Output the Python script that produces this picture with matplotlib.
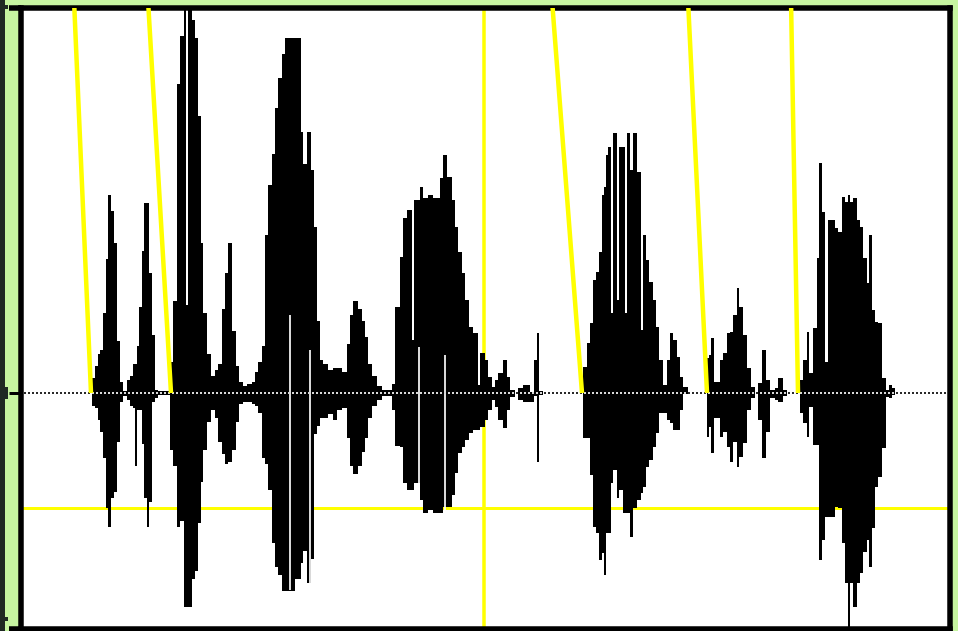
import matplotlib
matplotlib.use("Agg")
import matplotlib.pyplot as plt
from matplotlib.patches import Rectangle

# ---- waveform envelope: column start (frame), max and min amplitude per column ----
frame = [
    24,
    92, 95, 98, 100, 103, 106, 108, 111, 114, 117, 120, 123,
    127, 130, 133, 135, 137, 139, 142, 144, 147, 149, 152, 155, 158,
    170, 173, 177, 180, 184, 186, 188, 192, 195, 198, 201, 203, 207, 211,
    215, 218, 222, 225, 228, 232, 236, 239, 243, 247, 252, 255, 258,
    262, 265, 268, 272, 275, 278, 282, 285, 295, 301, 303, 307, 311, 314,
    317, 320, 323, 328, 333, 337, 342, 347, 350, 353, 358, 362, 365, 368,
    372, 377, 382, 392,
    395, 400, 403, 407, 412, 414, 420, 423, 428, 433, 440, 443, 447, 452,
    455, 458, 462, 465, 469, 473, 478, 480, 485, 488, 492, 495, 498, 503,
    507, 510, 515, 518, 523, 530, 534, 537, 539, 543,
    583, 587, 590, 593, 596, 599, 602, 604, 606, 608, 611, 613, 617, 619,
    623, 625, 627, 630, 633, 637, 641, 643, 646, 649, 653, 656, 659, 663,
    667, 670, 673, 677, 680, 683, 688,
    707, 709, 711, 714, 720, 723, 727, 730, 733, 737, 739, 743, 747, 751,
    755, 758, 762, 766, 770, 775, 778, 783, 787,
    800, 803, 807, 809, 813, 817, 819, 822, 825, 828, 835, 838, 842, 845,
    848, 850, 853, 857, 860, 863, 867, 869, 872, 875, 878, 882, 886, 889,
    892, 895,
]
env_top = [
    0,
    15, 27, 39, 43, 80, 134, 198, 182, 150, 52, 11, 2,
    13, 17, 29, 29, 47, 86, 142, 190, 190, 120, 58, 3, 2,
    31, 92, 309, 357, 385, 88, 385, 373, 355, 277, 150, 80, 39, 17,
    23, 29, 84, 120, 150, 62, 27, 11, 7, 9, 11, 21, 31,
    47, 158, 208, 239, 285, 315, 339, 355, 355, 261, 229, 261, 223, 166,
    72, 33, 29, 23, 25, 25, 21, 49, 78, 92, 84, 72, 56, 29,
    17, 7, 3, 9,
    86, 136, 175, 183, 53, 193, 206, 195, 198, 195, 215, 238, 216, 193,
    166, 141, 120, 93, 66, 60, 8, 40, 33, 16, 6, 13, 20, 33,
    16, 3, 0, 5, 8, 1, 33, 60, 2, 0,
    26, 50, 70, 113, 121, 141, 198, 206, 238, 246, 80, 260, 93, 246,
    246, 80, 260, 223, 260, 221, 63, 158, 133, 111, 93, 66, 33, 8,
    33, 60, 53, 36, 16, 6, 0,
    35, 38, 55, 11, 33, 40, 60, 61, 78, 105, 86, 58, 25, 6,
    0, 10, 43, 13, 3, 5, 15, 3, 0,
    13, 33, 61, 20, 65, 135, 230, 181, 31, 173, 165, 161, 196, 191,
    198, 191, 195, 173, 166, 135, 110, 158, 83, 71, 70, 15, 3, 8,
    5, 0,
]
env_bot = [
    0,
    -13, -15, -27, -39, -65, -115, -134, -105, -99, -49, -9, -3,
    -7, -13, -15, -73, -17, -17, -51, -105, -134, -109, -9, -5, -2,
    -57, -73, -134, -128, -214, -214, -214, -186, -178, -130, -89, -57, -29, -17,
    -25, -49, -61, -71, -69, -57, -29, -11, -9, -9, -11, -13, -20,
    -65, -71, -97, -150, -174, -182, -198, -198, -186, -170, -158, -190, -166, -41,
    -33, -25, -25, -21, -27, -17, -15, -45, -73, -81, -73, -59, -45, -25,
    -13, -7, -3, -17,
    -53, -54, -90, -97, -97, -90, -107, -120, -117, -120, -120, -114, -114, -102,
    -80, -60, -54, -47, -40, -37, -37, -34, -27, -17, -7, -14, -27, -35,
    -17, -4, 0, -7, -9, -9, -3, -69, -2, 0,
    -45, -45, -82, -134, -140, -167, -160, -182, -140, -140, -90, -77, -105, -97,
    -120, -120, -120, -144, -115, -107, -100, -94, -74, -67, -54, -40, -20, -20,
    -27, -30, -37, -37, -17, -1, 0,
    -44, -34, -60, -25, -44, -39, -54, -69, -49, -74, -64, -50, -17, -5,
    0, -27, -65, -39, -5, -7, -9, -3, 0,
    -20, -30, -44, -14, -52, -52, -167, -147, -124, -124, -114, -115, -150, -190,
    -234, -190, -214, -190, -180, -159, -147, -174, -135, -94, -84, -55, -4, -5,
    -2, 0,
]
frame_end = 947

# dropouts inside the filled waveform (frame, low amp, high amp)
dropout_frame = [289.5, 310, 419, 444.5]
dropout_lo = [-197, -190, -90, -120]
dropout_hi = [78, 43, 46, 38]

# cursor / marker lines
level_amp = -115          # horizontal reference level
cursor_frame = 484        # vertical cursor
pitch_top = [74, 148, 552, 688, 791]   # slanted pitch marks: frame at the top edge
pitch_base = [91, 171, 582, 707, 798]  # frame where each mark meets the zero line
pitch_top_amp = 393

W, H = 958, 631
GREEN = "#c6f4a0"
YELLOW = "#ffff00"

fig = plt.figure(figsize=(W / 100, H / 100), dpi=100, facecolor=GREEN)

x_left, x_right = 20.8, 949.7
amp_top, amp_bot = 385.3, -235.5
ax = fig.add_axes([x_left / W, 2.5 / H, (x_right - x_left) / W, (628.5 - 7.7) / H])
ax.set_xlim(x_left, x_right)
ax.set_ylim(amp_bot, amp_top)
ax.set_facecolor("white")
ax.set_xticks([])
ax.set_yticks([])
for sp in ax.spines.values():
    sp.set_linewidth(5.5 * 0.72)
    sp.set_color("black")

# yellow reference lines behind the signal
ax.axhline(level_amp, color=YELLOW, lw=3 * 0.72, zorder=1)
ax.axvline(cursor_frame, color=YELLOW, lw=3.5 * 0.72, zorder=1)

# waveform as a stepped envelope
edges = frame + [frame_end]
top = env_top + [env_top[-1]]
bot = env_bot + [env_bot[-1]]
wave = ax.fill_between(edges, top, bot, step="post", facecolor="black",
                       edgecolor="none", lw=0, zorder=3)
ax.vlines(dropout_frame, dropout_lo, dropout_hi, colors="white",
          lw=1.7 * 0.72, zorder=3.5)

# dotted zero line: dark over the background, light over the signal
x0, x1 = 24, 946
ax.plot([x0, x1], [0, 0], color="#2a2a2a", lw=2 * 0.72, ls=(0, (1, 1)),
        dash_capstyle="butt", zorder=4)
light, = ax.plot([x0, x1], [0, 0], color="#d8d8d8", lw=2 * 0.72, ls=(0, (1, 1)),
                 dash_capstyle="butt", zorder=4.2)
light.set_clip_path(wave.get_paths()[0], wave.get_transform())

# slanted pitch marks
for xt, xb in zip(pitch_top, pitch_base):
    ax.plot([xt, xb], [pitch_top_amp, 0], color=YELLOW, lw=4.5 * 0.72,
            solid_capstyle="butt", zorder=5)

# little ticks to the left of the frame
ax.plot([9.5, x_left], [0, 0], color="black", lw=3 * 0.72, clip_on=False,
        solid_capstyle="butt", zorder=6)
ax.plot([9.5, x_left], [amp_top, amp_top], color="black", lw=5.5 * 0.72,
        clip_on=False, solid_capstyle="butt", zorder=6)
ax.plot([9.5, x_left], [amp_bot, amp_bot], color="black", lw=5.5 * 0.72,
        clip_on=False, solid_capstyle="butt", zorder=6)

# dark strip at the far left edge with its notches
fig.patches.append(Rectangle((0, 0), 5 / W, 1, transform=fig.transFigure,
                             facecolor="#1f2823", edgecolor="none"))
for yc, hh in [(393, 12), (7, 4), (619, 4)]:
    fig.patches.append(Rectangle((5 / W, (H - yc - hh / 2) / H), 2.5 / W, hh / H,
                                 transform=fig.transFigure,
                                 facecolor="#1f2823", edgecolor="none"))

fig.savefig("out.png", dpi=100, facecolor=GREEN)
